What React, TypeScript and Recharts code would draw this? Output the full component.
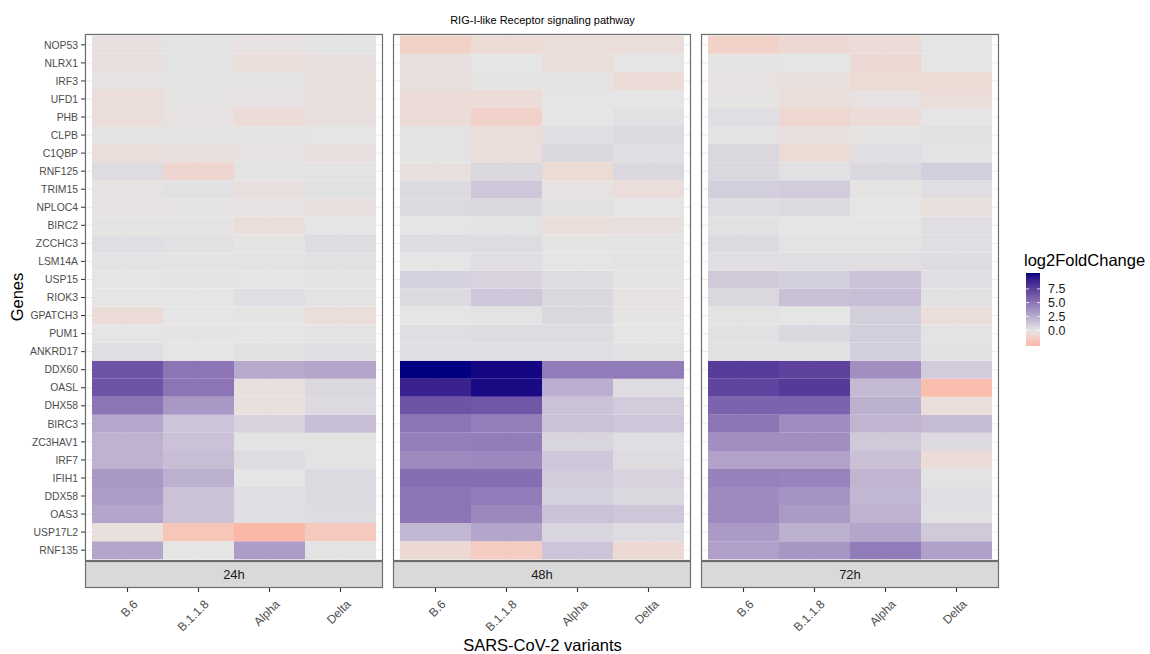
import { BarChart, Bar, Cell, XAxis, YAxis, CartesianGrid } from "recharts";

const GENES = [
  "NOP53", "NLRX1", "IRF3", "UFD1", "PHB", "CLPB", "C1QBP", "RNF125",
  "TRIM15", "NPLOC4", "BIRC2", "ZCCHC3", "LSM14A", "USP15", "RIOK3",
  "GPATCH3", "PUM1", "ANKRD17", "DDX60", "OASL", "DHX58", "BIRC3",
  "ZC3HAV1", "IRF7", "IFIH1", "DDX58", "OAS3", "USP17L2", "RNF135",
];

const VARIANTS = ["B.6", "B.1.1.8", "Alpha", "Delta"];

// log2FoldChange, one row per gene (GENES order), columns in VARIANTS order
const FC_24H = [
  [-0.3, 0.1, -0.2, 0.1],
  [-0.4, 0.1, -0.5, -0.3],
  [-0.2, 0.1, -0.1, -0.4],
  [-0.5, -0.1, -0.2, -0.4],
  [-0.5, -0.2, -0.6, -0.3],
  [-0.1, -0.1, -0.1, 0.0],
  [-0.5, -0.3, -0.2, -0.3],
  [0.4, -1.0, 0.1, 0.1],
  [-0.2, 0.2, -0.3, 0.2],
  [-0.2, -0.1, -0.2, -0.3],
  [-0.1, -0.1, -0.5, 0.0],
  [0.3, 0.2, -0.1, 0.4],
  [0.1, -0.1, 0.1, 0.2],
  [0.0, -0.1, 0.0, 0.1],
  [0.0, 0.0, 0.3, 0.1],
  [-0.6, 0.0, -0.1, -0.5],
  [0.0, -0.1, 0.0, 0.1],
  [0.3, 0.0, 0.2, 0.3],
  [6.6, 5.0, 2.6, 2.8],
  [6.6, 5.0, -0.3, 0.6],
  [5.0, 3.4, -0.3, 0.5],
  [2.7, 1.4, 0.8, 1.7],
  [2.2, 1.5, 0.1, 0.1],
  [2.2, 1.7, 0.4, 0.1],
  [3.4, 2.3, 0.0, 0.5],
  [3.2, 1.5, 0.3, 0.5],
  [2.8, 1.5, 0.3, 0.4],
  [-0.4, -2.0, -2.9, -1.8],
  [2.8, 0.0, 3.2, 0.1],
];

const FC_48H = [
  [-1.3, -0.7, -0.5, -0.5],
  [-0.3, 0.0, -0.5, 0.0],
  [-0.3, -0.1, -0.1, -0.6],
  [-0.6, -0.6, 0.0, 0.0],
  [-0.6, -1.2, 0.0, 0.2],
  [0.1, -0.5, 0.3, 0.5],
  [0.1, -0.5, 0.6, 0.3],
  [-0.3, 0.6, -0.7, 0.6],
  [0.5, 1.3, -0.2, -0.5],
  [0.5, 0.6, 0.2, 0.0],
  [0.0, 0.1, -0.5, -0.3],
  [0.4, 0.4, -0.1, 0.1],
  [0.0, 0.3, 0.0, 0.1],
  [0.9, 0.8, 0.4, 0.1],
  [0.5, 1.3, 0.6, -0.2],
  [0.0, 0.1, 0.6, -0.1],
  [0.3, 0.4, 0.4, 0.0],
  [0.3, 0.3, 0.3, 0.2],
  [10.4, 10.1, 4.7, 4.7],
  [9.0, 10.0, 2.4, 0.4],
  [6.6, 6.4, 1.5, 1.1],
  [5.0, 4.5, 1.5, 1.3],
  [4.5, 4.6, 0.7, 0.3],
  [4.0, 4.1, 1.3, 0.4],
  [5.3, 5.3, 1.1, 0.8],
  [5.0, 4.7, 0.9, 0.6],
  [5.0, 4.1, 1.5, 1.3],
  [2.0, 2.8, 0.7, 0.4],
  [-0.8, -1.6, 1.4, -0.8],
];

const FC_72H = [
  [-1.3, -0.8, -0.6, 0.0],
  [-0.1, 0.0, -0.8, 0.0],
  [-0.2, -0.3, -0.7, -0.7],
  [-0.1, -0.5, -0.2, -0.5],
  [0.3, -0.9, -0.6, 0.0],
  [0.1, -0.3, -0.1, 0.2],
  [0.6, -0.7, 0.3, 0.1],
  [0.6, 0.2, 0.6, 1.0],
  [1.0, 1.1, -0.1, 0.3],
  [0.4, 0.5, 0.0, -0.4],
  [0.2, 0.0, 0.0, 0.3],
  [0.5, 0.1, 0.1, 0.3],
  [0.3, 0.3, 0.3, 0.4],
  [1.2, 1.0, 1.5, 0.3],
  [0.6, 1.6, 1.7, 0.2],
  [0.1, 0.0, 1.0, -0.5],
  [0.2, 0.6, 1.0, 0.1],
  [0.2, 0.2, 1.0, 0.2],
  [7.7, 7.4, 3.8, 1.1],
  [7.3, 7.8, 1.9, -2.5],
  [5.8, 5.8, 2.3, -0.5],
  [5.0, 3.9, 2.1, 1.8],
  [3.8, 3.8, 1.2, 0.5],
  [2.9, 2.9, 1.6, -0.6],
  [4.4, 4.3, 2.1, 0.1],
  [4.0, 3.6, 2.0, 0.3],
  [4.0, 3.3, 2.2, 0.2],
  [3.3, 2.3, 2.8, 1.2],
  [3.0, 3.5, 4.7, 3.0],
];

const PANELS = [
  { label: "24h", values: FC_24H, left: 85 },
  { label: "48h", values: FC_48H, left: 393 },
  { label: "72h", values: FC_72H, left: 701 },
];

const LEGEND_BREAKS = [0, 2.5, 5, 7.5];

const FONT = "'Liberation Sans', Arial, Helvetica, sans-serif";
const PANEL_W = 298;
const PANEL_TOP = 34;
const PANEL_BOTTOM = 561;

const allValues = [...FC_24H, ...FC_48H, ...FC_72H].flat();
const FC_MIN = Math.min(...allValues);
const FC_MAX = Math.max(...allValues);

// ---- diverging fill (Lab interpolation around 0) ----
const LOW = "#FF0000";
const MID = "#E5E5E5";
const HIGH = "#000080";

function hexToLab(hex: string): number[] {
  const n = parseInt(hex.slice(1), 16);
  const [r, g, b] = [(n >> 16) & 255, (n >> 8) & 255, n & 255].map((c) => {
    const s = c / 255;
    return s <= 0.04045 ? s / 12.92 : ((s + 0.055) / 1.055) ** 2.4;
  });
  const x = (r * 0.4124 + g * 0.3576 + b * 0.1805) / 0.95047;
  const y = r * 0.2126 + g * 0.7152 + b * 0.0722;
  const z = (r * 0.0193 + g * 0.1192 + b * 0.9505) / 1.08883;
  const f = (t: number) => (t > 0.008856 ? Math.cbrt(t) : 7.787 * t + 16 / 116);
  const fx = f(x), fy = f(y), fz = f(z);
  return [116 * fy - 16, 500 * (fx - fy), 200 * (fy - fz)];
}

function labToHex([L, a, b]: number[]): string {
  const fy = (L + 16) / 116;
  const fx = fy + a / 500;
  const fz = fy - b / 200;
  const inv = (t: number) => (t ** 3 > 0.008856 ? t ** 3 : (t - 16 / 116) / 7.787);
  const x = inv(fx) * 0.95047, y = inv(fy), z = inv(fz) * 1.08883;
  const lin = [
    x * 3.2406 - y * 1.5372 - z * 0.4986,
    -x * 0.9689 + y * 1.8758 + z * 0.0415,
    x * 0.0557 - y * 0.204 + z * 1.057,
  ];
  return (
    "#" +
    lin
      .map((c) => {
        const s = c <= 0.0031308 ? 12.92 * c : 1.055 * Math.max(c, 0) ** (1 / 2.4) - 0.055;
        return Math.round(Math.min(1, Math.max(0, s)) * 255).toString(16).padStart(2, "0");
      })
      .join("")
  );
}

const LAB_LOW = hexToLab(LOW);
const LAB_MID = hexToLab(MID);
const LAB_HIGH = hexToLab(HIGH);
const HALF_SPAN = Math.max(Math.abs(FC_MIN), Math.abs(FC_MAX));

function fillFor(v: number): string {
  const t = Math.min(1, Math.abs(v) / HALF_SPAN);
  const end = v < 0 ? LAB_LOW : LAB_HIGH;
  return labToHex(LAB_MID.map((m, i) => m + (end[i] - m) * t));
}

// ---- tiles ----
const GENE_TICKS = GENES.map((_, i) => i + 0.5);
const geneAt = (tick: number) => GENES[GENES.length - 1 - Math.round(tick - 0.5)];
const STACK_ORDER = [...GENES].reverse(); // first bar sits at the bottom

const tileRows = VARIANTS.map((variant) => {
  const row: Record<string, string | number> = { variant };
  GENES.forEach((g) => (row[g] = 1));
  return row;
});

function VariantTick(props: any) {
  const { x, y, payload } = props;
  const ax = x + 11;
  const ay = y + 44;
  return (
    <g>
      <line x1={x} x2={x} y1={y + 27} y2={y + 31} stroke="#333333" strokeWidth={1.1} />
      <text
        x={ax}
        y={ay}
        textAnchor="end"
        transform={`rotate(-45 ${ax} ${ay})`}
        fontSize={12}
        fill="#4D4D4D"
        fontFamily={FONT}
      >
        {payload.value}
      </text>
    </g>
  );
}

function HeatPanel({ values, left, showGenes }: { values: number[][]; left: number; showGenes: boolean }) {
  const axisW = showGenes ? 85 : 0;
  return (
    <div style={{ position: "absolute", left: left - axisW, top: 0 }}>
      <BarChart
        width={PANEL_W + axisW}
        height={654}
        data={tileRows}
        margin={{ top: PANEL_TOP, right: 0, bottom: 0, left: 0 }}
        barCategoryGap={0}
        barGap={0}
      >
        <CartesianGrid stroke="#EBEBEB" fill="#FFFFFF" />
        <XAxis
          dataKey="variant"
          type="category"
          padding={{ left: 7, right: 7 }}
          height={654 - PANEL_BOTTOM}
          axisLine={false}
          tickLine={false}
          tickSize={0}
          tickMargin={0}
          interval={0}
          tick={(p: any) => <VariantTick {...p} />}
        />
        <YAxis
          type="number"
          domain={[-0.1, GENES.length + 0.1]}
          allowDataOverflow
          ticks={GENE_TICKS}
          interval={0}
          hide={!showGenes}
          width={axisW}
          axisLine={false}
          tickLine={{ stroke: "#333333" }}
          tickSize={4}
          tickMargin={3}
          tickFormatter={(v: number) => geneAt(v)}
          tick={{ fontSize: 10.4, fill: "#4D4D4D", fontFamily: FONT }}
        />
        {STACK_ORDER.map((g) => {
          const row = values[GENES.indexOf(g)];
          return (
            <Bar key={g} dataKey={g} stackId="tiles" isAnimationActive={false}>
              {VARIANTS.map((v, j) => (
                <Cell key={v} fill={fillFor(row[j])} />
              ))}
            </Bar>
          );
        })}
      </BarChart>
    </div>
  );
}

// ---- colourbar ----
const BAR_X = 1026;
const BAR_Y = 273;
const BAR_W = 14;
const BAR_H = 73;
const barY = (v: number) => BAR_Y + ((FC_MAX - v) / (FC_MAX - FC_MIN)) * BAR_H;
const GRADIENT_STOPS = Array.from({ length: 25 }, (_, i) => FC_MAX - (i / 24) * (FC_MAX - FC_MIN));

export default function App() {
  return (
    <div
      style={{
        position: "absolute",
        left: 0,
        top: 0,
        width: 1150,
        height: 654,
        background: "#FFFFFF",
        fontFamily: FONT,
        overflow: "hidden",
      }}
    >
      {PANELS.map((p, i) => (
        <HeatPanel key={p.label} values={p.values} left={p.left} showGenes={i === 0} />
      ))}

      <svg
        width={1150}
        height={654}
        style={{ position: "absolute", left: 0, top: 0, pointerEvents: "none" }}
        fontFamily={FONT}
      >
        <defs>
          <linearGradient id="fcbar" x1="0" y1="0" x2="0" y2="1">
            {GRADIENT_STOPS.map((v, i) => (
              <stop key={i} offset={`${(i / 24) * 100}%`} stopColor={fillFor(v)} />
            ))}
          </linearGradient>
        </defs>

        <text x={542.5} y={24} textAnchor="middle" fontSize={11} fill="#000">
          RIG-I-like Receptor signaling pathway
        </text>

        {PANELS.map((p) => (
          <g key={p.label}>
            <rect
              x={p.left + 0.5}
              y={PANEL_TOP + 0.5}
              width={PANEL_W - 1}
              height={PANEL_BOTTOM - PANEL_TOP - 1}
              fill="none"
              stroke="#6E6E6E"
              strokeWidth={1.2}
            />
            <rect
              x={p.left + 0.5}
              y={PANEL_BOTTOM + 0.5}
              width={PANEL_W - 1}
              height={26}
              fill="#D9D9D9"
              stroke="#6E6E6E"
              strokeWidth={1.2}
            />
            <text x={p.left + PANEL_W / 2} y={PANEL_BOTTOM + 18} textAnchor="middle" fontSize={13} fill="#1A1A1A">
              {p.label}
            </text>
          </g>
        ))}

        <text x={542.5} y={651} textAnchor="middle" fontSize={16.5} fill="#000">
          SARS-CoV-2 variants
        </text>
        <text x={23} y={297} textAnchor="middle" fontSize={16.5} fill="#000" transform="rotate(-90 23 297)">
          Genes
        </text>

        <text x={1024} y={266} fontSize={16.5} fill="#000">
          log2FoldChange
        </text>
        <rect x={BAR_X} y={BAR_Y} width={BAR_W} height={BAR_H} fill="url(#fcbar)" />
        {LEGEND_BREAKS.map((b) => (
          <g key={b}>
            <line x1={BAR_X} x2={BAR_X + 3} y1={barY(b)} y2={barY(b)} stroke="#FFFFFF" strokeWidth={0.8} />
            <line x1={BAR_X + BAR_W - 3} x2={BAR_X + BAR_W} y1={barY(b)} y2={barY(b)} stroke="#FFFFFF" strokeWidth={0.8} />
            <text x={1048} y={barY(b) + 4.5} fontSize={12.5} fill="#1A1A1A">
              {b.toFixed(1)}
            </text>
          </g>
        ))}
      </svg>
    </div>
  );
}
